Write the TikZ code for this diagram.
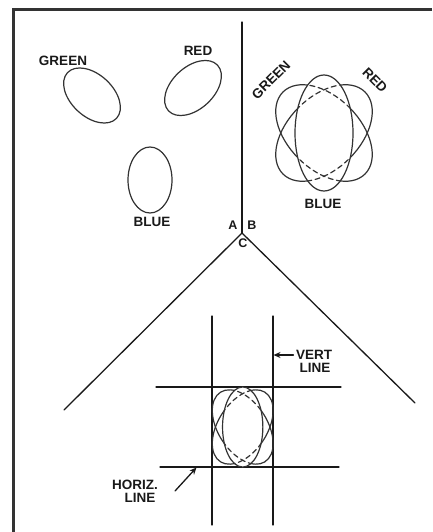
\documentclass[tikz,border=0pt]{standalone}
\usepackage{fontspec}
\setmainfont{Liberation Sans}
\usetikzlibrary{arrows.meta}
\newcommand\drawatom[6]{%
  \begin{scope}[shift={(#1,#2)}, xscale=#3, yscale=#4]
    \draw[orbit, rotate=-45] (0,0) ellipse (58 and 36);
    \draw[orbit, rotate=45] (0,0) ellipse (58 and 36);
    \fill[white] (0,0) ellipse (#5 and #6);
    \begin{scope}
      \clip (0,0) ellipse (#5 and #6);
      \draw[orbit, hidden, rotate=-45] (0,0) ellipse (58 and 36);
      \draw[orbit, hidden, rotate=45] (0,0) ellipse (58 and 36);
    \end{scope}
    \draw[orbit] (0,0) ellipse (#5 and #6);
  \end{scope}}
\begin{document}
\begin{tikzpicture}[x=1pt, y=-1pt, line width=1.2pt, line cap=round,
  lbl/.style={font=\fontsize{13.5}{13.5}\selectfont\bfseries, inner sep=0pt, text=black!90},
  sml/.style={font=\fontsize{12.5}{12.5}\selectfont\bfseries, inner sep=0pt, text=black!90},
  orbit/.style={draw=black!80, line width=1.2pt},
  hidden/.style={dash pattern=on 5pt off 3.5pt},
  ln/.style={draw=black!90, line width=1.3pt},
  pointer/.style={draw=black!90, line width=1.3pt, -{Stealth[length=7pt,width=6pt]}}]
\useasboundingbox (0,0) rectangle (432,532);
% frame
\draw[line width=3pt, black!80, line cap=butt] (432,10) -- (13.5,10) -- (13.5,532);

% separate colour dots
\draw[orbit, rotate around={-43:(92,95.5)}] (92,95.5) ellipse (33.5 and 21);
\draw[orbit, rotate around={43:(193,88)}] (193,88) ellipse (33.5 and 21);
\draw[orbit] (150,180) ellipse (22 and 33);
\node[lbl] (green1) at (63,61) {GREEN};
\node[lbl] (red1) at (198,51) {RED};
\node[lbl] (blue1) at (152,222) {BLUE};

% converged pattern
\drawatom{324}{133}{1}{1}{29}{58}
\node[lbl, rotate=45] (green2) at (271,80) {GREEN};
\node[lbl, rotate=-45] (red2) at (375,80) {RED};
\node[lbl] (blue2) at (323,204) {BLUE};

% deflection lines
\coordinate (vtop) at (242,22);
\coordinate (apex) at (242,233);
\coordinate (vleft) at (64,410);
\coordinate (vright) at (415,403);
\draw[ln] (vtop) -- (apex);
\draw[ln] (vleft) -- (apex) -- (vright);
\node[sml] (lA) at (233,225) {A};
\node[sml] (lB) at (252,225) {B};
\node[sml] (lC) at (243,243) {C};

% grid
\coordinate (g1t) at (212,316);
\coordinate (g1b) at (212,525);
\coordinate (g2t) at (273,316);
\coordinate (g2b) at (273,525);
\coordinate (h1l) at (156,387);
\coordinate (h1r) at (341,387);
\coordinate (h2l) at (160,467);
\coordinate (h2r) at (339,467);
\draw[ln] (g1t) -- (g1b);
\draw[ln] (g2t) -- (g2b);
\draw[ln] (h1l) -- (h1r);
\draw[ln] (h2l) -- (h2r);
\drawatom{242.7}{427}{0.63}{0.77}{32}{52}

% callouts
\node[lbl] (vert) at (314,355) {VERT};
\node[lbl] (vline) at (315,368) {LINE};
\coordinate (vtip) at (273.5,355);
\draw[pointer] ([xshift=-2pt]vert.west) -- (vtip);
\node[lbl] (horiz) at (135,485) {HORIZ.};
\node[lbl] (hline) at (140,497.5) {LINE};
\coordinate (hstart) at (175,491);
\coordinate (htip) at (196.5,467.5);
\draw[pointer] (hstart) -- (htip);
\end{tikzpicture}
\end{document}
